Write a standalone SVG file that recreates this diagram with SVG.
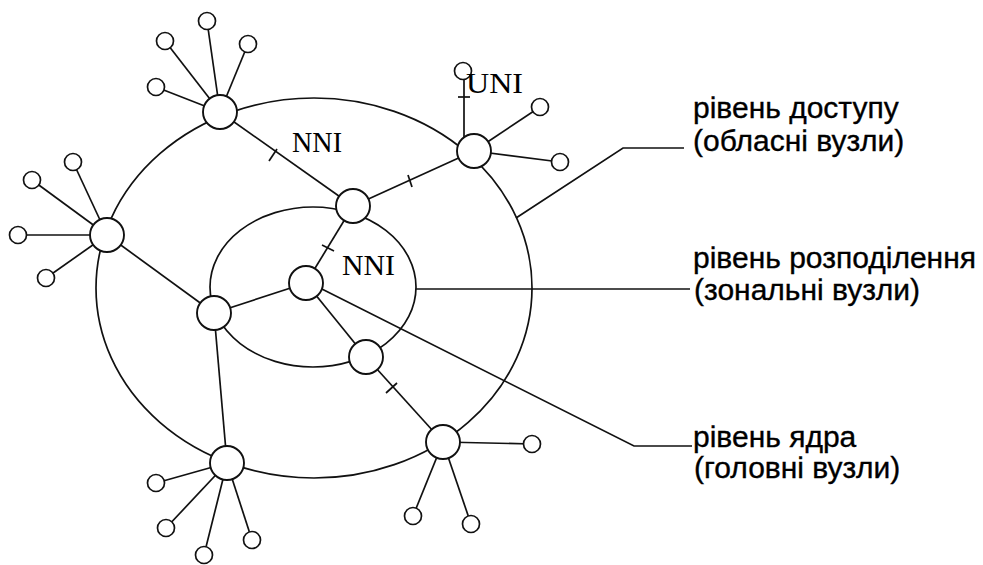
<svg xmlns="http://www.w3.org/2000/svg" width="983" height="565" viewBox="0 0 983 565">
<style>
.ln{stroke:#111;stroke-width:1.7;fill:none}
.big{stroke:#111;stroke-width:1.9;fill:#fff}
.sm{stroke:#111;stroke-width:1.7;fill:#fff}
.lbl{font-family:"Liberation Sans",Arial,sans-serif;font-size:30px;fill:#000;stroke:#000;stroke-width:0.35}
.tag{font-family:"Liberation Serif","Times New Roman",serif;font-size:30px;fill:#000}
</style>
<rect width="983" height="565" fill="#fff"/>
<g id="connectors" class="ln">
  <ellipse cx="314" cy="288" rx="218" ry="190"/>
  <ellipse cx="313" cy="287" rx="103" ry="80"/>
  <line x1="220" y1="112" x2="207" y2="21"/>
  <line x1="220" y1="112" x2="248" y2="44"/>
  <line x1="220" y1="112" x2="165" y2="41"/>
  <line x1="220" y1="112" x2="156" y2="87"/>
  <line x1="220" y1="112" x2="353" y2="206"/>
  <line x1="107" y1="235" x2="73" y2="162"/>
  <line x1="107" y1="235" x2="32" y2="180"/>
  <line x1="107" y1="235" x2="18" y2="235"/>
  <line x1="107" y1="235" x2="46" y2="278"/>
  <line x1="107" y1="235" x2="214" y2="313"/>
  <line x1="353" y1="206" x2="474" y2="151"/>
  <line x1="353" y1="206" x2="306" y2="283"/>
  <line x1="464" y1="140" x2="464" y2="71"/>
  <line x1="474" y1="151" x2="540" y2="107"/>
  <line x1="474" y1="151" x2="560" y2="162"/>
  <line x1="306" y1="283" x2="214" y2="313"/>
  <line x1="306" y1="283" x2="366" y2="357"/>
  <polyline points="306,281 634,446 692,446"/>
  <line x1="214" y1="313" x2="227" y2="463"/>
  <line x1="366" y1="357" x2="443" y2="442"/>
  <line x1="443" y1="442" x2="532" y2="444"/>
  <line x1="443" y1="442" x2="413" y2="516"/>
  <line x1="443" y1="442" x2="471" y2="524"/>
  <line x1="227" y1="463" x2="156" y2="483"/>
  <line x1="227" y1="463" x2="166" y2="528"/>
  <line x1="227" y1="463" x2="204" y2="555"/>
  <line x1="227" y1="463" x2="252" y2="540"/>
  <line x1="416" y1="289" x2="690" y2="289"/>
  <polyline points="516,218 623,148 684,148"/>
  <line x1="269" y1="161" x2="277" y2="149"/>
  <line x1="408" y1="175" x2="412" y2="187"/>
  <line x1="322" y1="245" x2="334" y2="251"/>
  <line x1="386" y1="393" x2="397" y2="383"/>
  <line x1="458" y1="97" x2="470" y2="97"/>
</g>
<g id="node-A"><circle class="big" cx="220" cy="112" r="17"/></g>
<g id="node-B"><circle class="big" cx="107" cy="235" r="17"/></g>
<g id="node-C"><circle class="big" cx="353" cy="206" r="17"/></g>
<g id="node-D"><circle class="big" cx="474" cy="151" r="17"/></g>
<g id="node-E"><circle class="big" cx="306" cy="283" r="17"/></g>
<g id="node-F"><circle class="big" cx="214" cy="313" r="17"/></g>
<g id="node-G"><circle class="big" cx="366" cy="357" r="17"/></g>
<g id="node-H"><circle class="big" cx="443" cy="442" r="17"/></g>
<g id="node-I"><circle class="big" cx="227" cy="463" r="17"/></g>
<g id="leaves-A">
  <circle class="sm" cx="207" cy="21" r="8.5"/>
  <circle class="sm" cx="248" cy="44" r="8.5"/>
  <circle class="sm" cx="165" cy="41" r="8.5"/>
  <circle class="sm" cx="156" cy="87" r="8.5"/>
</g>
<g id="leaves-B">
  <circle class="sm" cx="73" cy="162" r="8.5"/>
  <circle class="sm" cx="32" cy="180" r="8.5"/>
  <circle class="sm" cx="18" cy="235" r="8.5"/>
  <circle class="sm" cx="46" cy="278" r="8.5"/>
</g>
<g id="leaves-D">
  <circle class="sm" cx="463" cy="71" r="8.5"/>
  <circle class="sm" cx="540" cy="107" r="8.5"/>
  <circle class="sm" cx="560" cy="162" r="8.5"/>
</g>
<g id="leaves-H">
  <circle class="sm" cx="532" cy="444" r="8.5"/>
  <circle class="sm" cx="413" cy="516" r="8.5"/>
  <circle class="sm" cx="471" cy="524" r="8.5"/>
</g>
<g id="leaves-I">
  <circle class="sm" cx="156" cy="483" r="8.5"/>
  <circle class="sm" cx="166" cy="528" r="8.5"/>
  <circle class="sm" cx="204" cy="555" r="8.5"/>
  <circle class="sm" cx="252" cy="540" r="8.5"/>
</g>
<g id="tags">
  <text class="tag" x="292" y="152" textLength="50" lengthAdjust="spacingAndGlyphs">NNI</text>
  <text class="tag" x="342" y="275" textLength="53" lengthAdjust="spacingAndGlyphs">NNI</text>
  <text class="tag" x="466" y="93" textLength="57" lengthAdjust="spacingAndGlyphs">UNI</text>
</g>
<g id="labels">
  <text class="lbl" x="693" y="118">рівень доступу</text>
  <text class="lbl" x="693" y="151">(обласні вузли)</text>
  <text class="lbl" x="693" y="268">рівень розподілення</text>
  <text class="lbl" x="694" y="300">(зональні вузли)</text>
  <text class="lbl" x="693" y="447">рівень ядра</text>
  <text class="lbl" x="694" y="478">(головні вузли)</text>
</g>
</svg>
